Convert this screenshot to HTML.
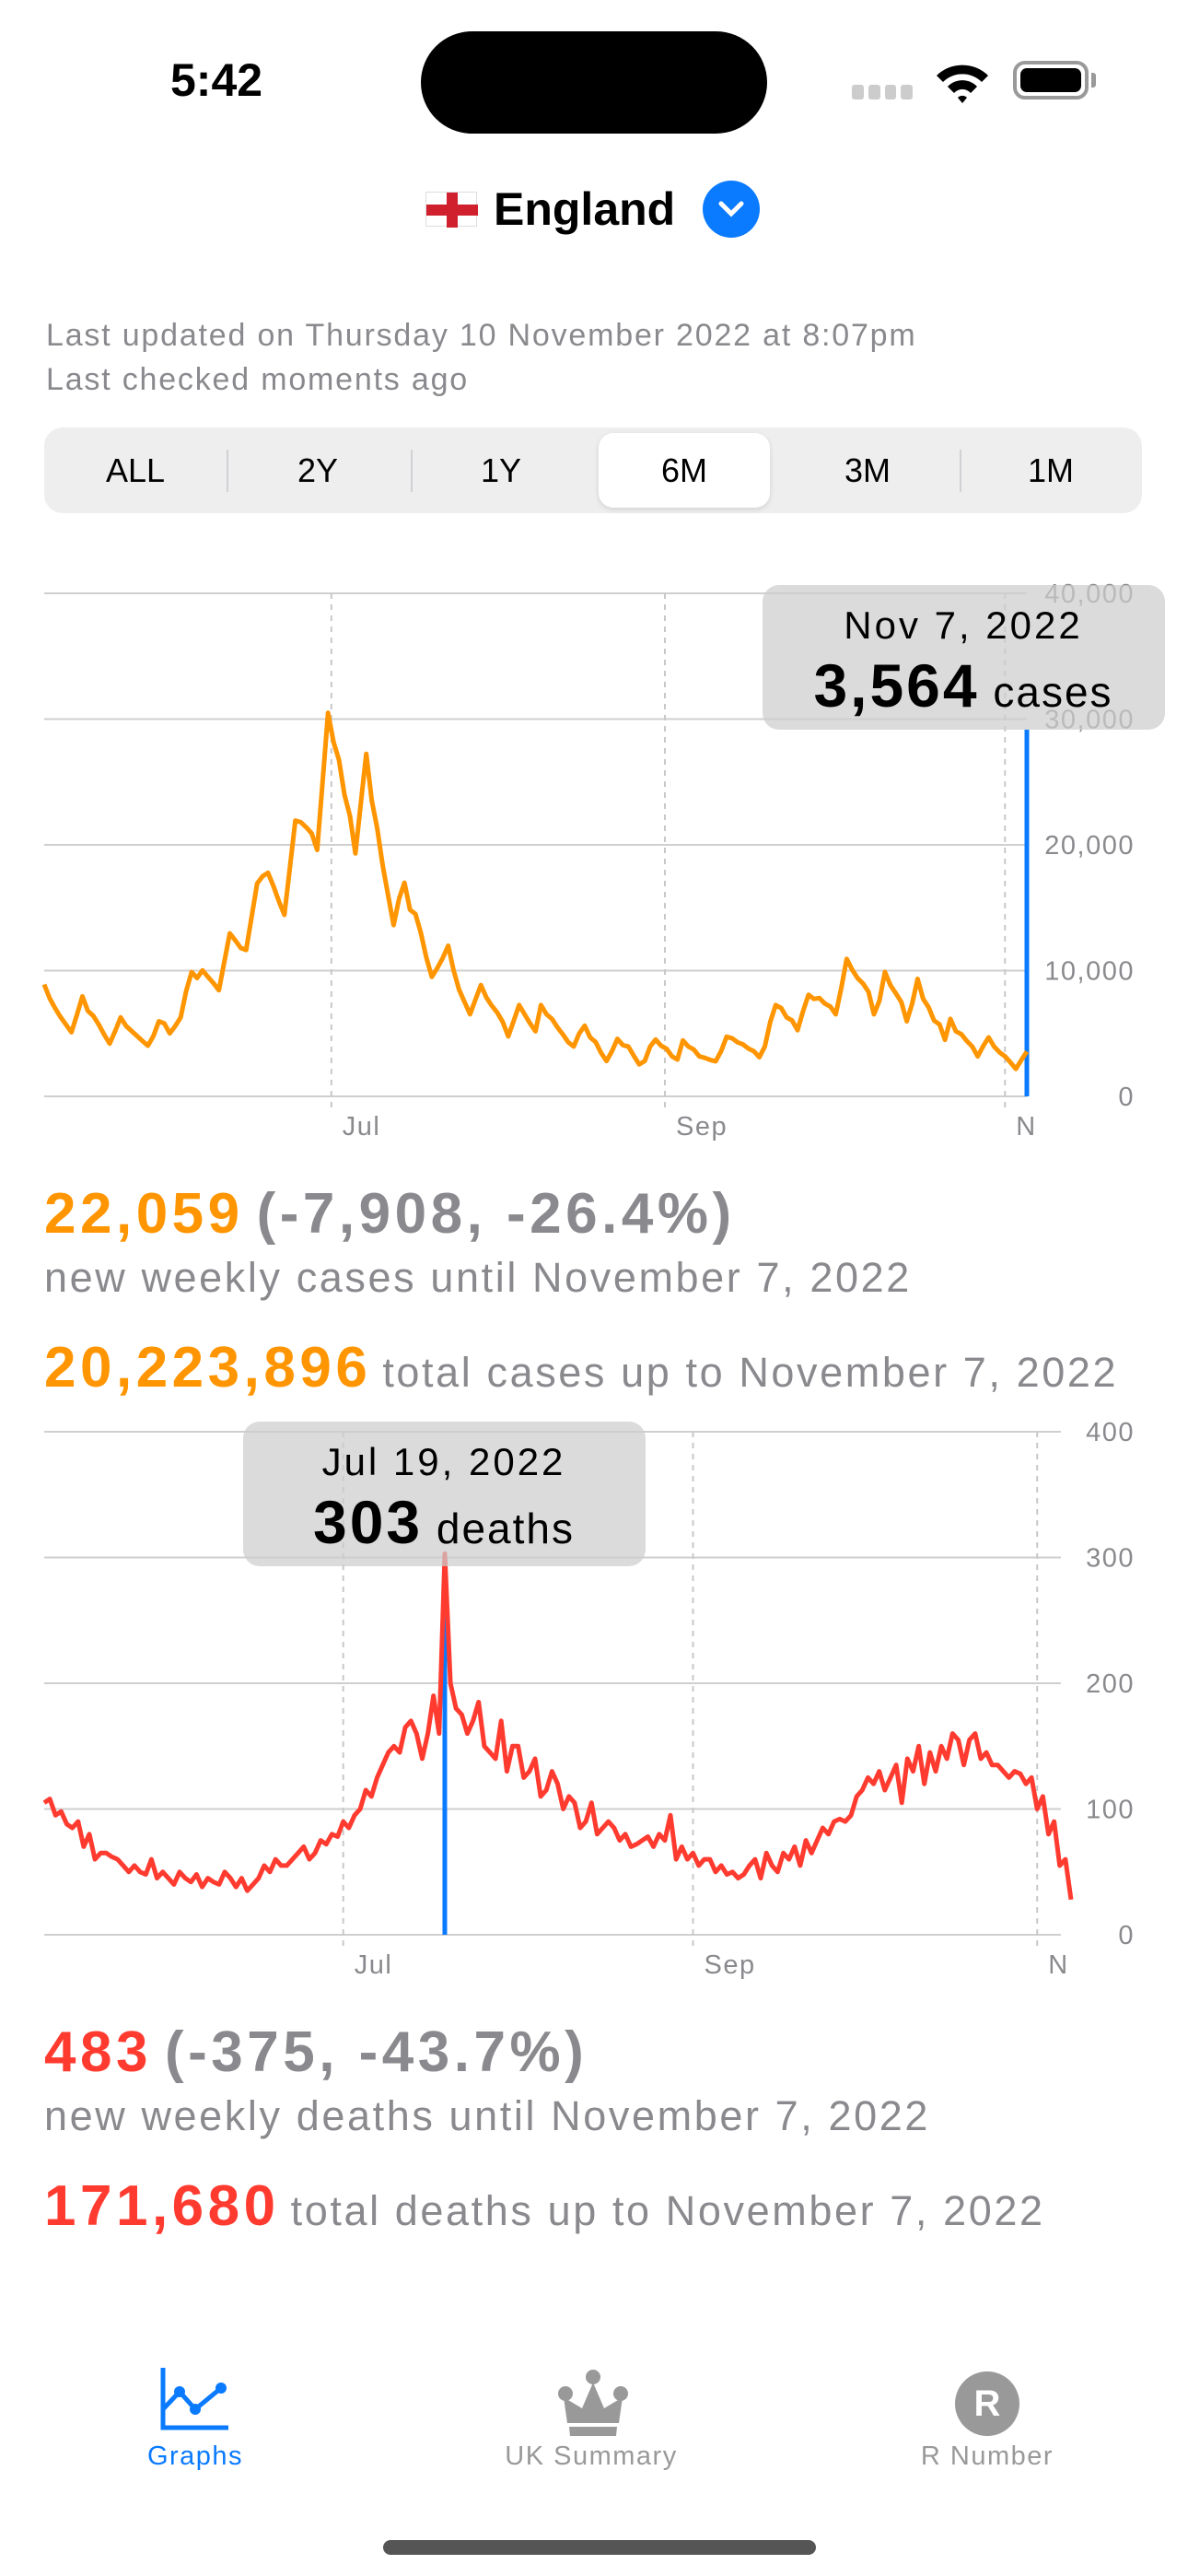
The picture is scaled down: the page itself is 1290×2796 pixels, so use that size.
<!DOCTYPE html>
<html><head><meta charset="utf-8">
<style>
*{margin:0;padding:0;box-sizing:border-box}
body{width:1290px;height:2796px;background:#fff;font-family:"Liberation Sans",sans-serif;position:relative;overflow:hidden}
.abs{position:absolute}
.seg{position:absolute;top:464px;left:48px;width:1192px;height:93px;background:#eeeeef;border-radius:20px}
.seg span{position:absolute;top:0;height:93px;line-height:93px;text-align:center;font-size:36px;color:#000;width:198px}
.sep{position:absolute;top:24px;width:2px;height:46px;background:#d1d1d6}
.big{font-size:62px;font-weight:bold;letter-spacing:4.5px}
.sub{font-size:45px;color:#8a8a8e;letter-spacing:2.6px}
.tab{position:absolute;top:2650px;font-size:29px;text-align:center;width:300px;letter-spacing:1.5px}
</style></head><body>
<div class="abs" style="left:185px;top:58px;font-size:50px;font-weight:bold">5:42</div>
<div class="abs" style="left:457px;top:34px;width:376px;height:111px;background:#000;border-radius:56px"></div>
<div class="abs" style="left:925px;top:92px;width:66px;height:16px;display:flex;gap:5px"><i style="flex:1;background:#ccc;border-radius:3px"></i><i style="flex:1;background:#ccc;border-radius:3px"></i><i style="flex:1;background:#ccc;border-radius:3px"></i><i style="flex:1;background:#ccc;border-radius:3px"></i></div>
<svg class="abs" style="left:1015px;top:66px" width="60" height="46" viewBox="0 0 60 46"><path d="M2 16 A40 40 0 0 1 58 16 L51 23 A30 30 0 0 0 9 23Z M14 28 A22 22 0 0 1 46 28 L39 35 A12 12 0 0 0 21 35Z M25 40 L30 46 L35 40 A7 7 0 0 0 25 40Z" fill="#000"/></svg>
<div class="abs" style="left:1100px;top:66px;width:82px;height:42px;border:4px solid #999;border-radius:13px;padding:4px"><div style="width:100%;height:100%;background:#000;border-radius:7px"></div></div>
<div class="abs" style="left:1185px;top:79px;width:5px;height:16px;background:#999;border-radius:0 3px 3px 0"></div>

<div class="abs" style="left:462px;top:196px;font-size:50px;font-weight:bold;display:flex;align-items:center;gap:18px">
<span style="width:56px;height:38px;background:#fff;border:1px solid #ddd;position:relative;display:inline-block"><i style="position:absolute;left:22px;top:0;width:12px;height:38px;background:#d0202e"></i><i style="position:absolute;left:0;top:13px;width:56px;height:12px;background:#d0202e"></i></span>
<span>England</span>
<span style="width:62px;height:62px;border-radius:50%;background:#0a7aff;display:inline-flex;align-items:center;justify-content:center;margin-left:12px"><svg width="30" height="20"><path d="M4 4 L15 15 L26 4" stroke="#fff" stroke-width="5" fill="none" stroke-linecap="round"/></svg></span></div>

<div class="abs" style="left:50px;top:340px;font-size:34px;color:#8a8a8e;line-height:48px;letter-spacing:1.8px">Last updated on Thursday 10 November 2022 at 8:07pm<br>Last checked moments ago</div>

<div class="seg">
<span style="left:0">ALL</span>
<div class="sep" style="left:198px"></div>
<span style="left:198px">2Y</span>
<div class="sep" style="left:398px"></div>
<span style="left:397px">1Y</span>
<span style="left:602px;top:6px;height:81px;line-height:81px;width:186px;background:#fff;border-radius:16px;box-shadow:0 2px 6px rgba(0,0,0,.12)">6M</span>
<span style="left:795px">3M</span>
<div class="sep" style="left:994px"></div>
<span style="left:994px">1M</span>
</div>

<svg id="c1" class="abs" style="left:0;top:600px" width="1290" height="650"></svg>
<div class="abs" style="left:48px;top:1282px;white-space:nowrap">
<div><span class="big" style="color:#ff9500">22,059</span><span class="big" style="color:#8a8a8e;margin-left:14px">(-7,908, -26.4%)</span></div>
<div class="sub" style="margin-top:8px">new weekly cases until November 7, 2022</div>
<div style="margin-top:36px"><span class="big" style="color:#ff9500">20,223,896</span><span class="sub" style="margin-left:12px">total cases up to November 7, 2022</span></div></div>

<svg id="c2" class="abs" style="left:0;top:1520px" width="1290" height="640"></svg>
<div class="abs" style="left:48px;top:2192px;white-space:nowrap">
<div><span class="big" style="color:#ff3b30">483</span><span class="big" style="color:#8a8a8e;margin-left:14px">(-375, -43.7%)</span></div>
<div class="sub" style="margin-top:8px">new weekly deaths until November 7, 2022</div>
<div style="margin-top:36px"><span class="big" style="color:#ff3b30">171,680</span><span class="sub" style="margin-left:12px">total deaths up to November 7, 2022</span></div></div>

<svg class="abs" style="left:172px;top:2570px" width="80" height="70"><path d="M5 0 V65 H76" stroke="#0a7aff" stroke-width="5" fill="none"/><path d="M5 45 L23 26 L40 45 L68 22" stroke="#0a7aff" stroke-width="5" fill="none"/><circle cx="23" cy="26" r="6" fill="#0a7aff"/><circle cx="40" cy="45" r="6" fill="#0a7aff"/><circle cx="68" cy="22" r="6" fill="#0a7aff"/></svg>
<div class="tab" style="left:62px;color:#0a7aff">Graphs</div>
<svg class="abs" style="left:606px;top:2572px" width="76" height="72"><circle cx="38" cy="8" r="8" fill="#999"/><circle cx="8" cy="26" r="8" fill="#999"/><circle cx="68" cy="26" r="8" fill="#999"/><path d="M6 30 L26 42 L38 14 L50 42 L70 30 L66 58 H10Z" fill="#999"/><path d="M12 62 H64 L63 72 H13Z" fill="#999"/></svg>
<div class="tab" style="left:492px;color:#999">UK Summary</div>
<div class="abs" style="left:1037px;top:2574px;width:70px;height:70px;border-radius:50%;background:#999;color:#fff;font-weight:bold;font-size:40px;line-height:70px;text-align:center">R</div>
<div class="tab" style="left:922px;color:#999">R Number</div>
<div class="abs" style="left:416px;top:2757px;width:470px;height:16px;border-radius:8px;background:#555"></div>

<script>
const caseValues=[8900,7800,7000,6300,5700,5100,6500,7950,6800,6400,5700,4900,4200,5200,6280,5600,5200,4800,4400,4030,
4800,5970,5800,5010,5600,6280,8360,9880,9410,10020,9500,9000,8440,10700,12960,12400,11800,11640,14300,16920,
17500,17780,16700,15500,14430,18200,21930,21800,21400,20900,19600,25000,30490,28170,26750,24000,22300,19320,23300,27240,
23520,21320,18390,16000,13620,15700,16990,14840,14500,13000,11050,9500,10200,11000,11980,10000,8480,7510,6530,7700,
8850,7870,7200,6650,5920,4770,6000,7260,6530,5800,5180,7260,6530,6160,5500,4940,4300,3960,5000,5620,
4690,4330,3470,2810,3590,4570,4080,3960,3230,2540,2810,3960,4520,4030,3790,3180,2930,4450,3960,3720,
3180,3060,2900,2790,3590,4740,4620,4300,4130,3800,3590,3110,3960,5920,7260,7020,6280,6040,5260,6770,
8070,7750,7820,7380,7140,6530,8610,10930,10070,9400,8970,8310,6530,7630,9900,8850,8200,7500,5970,7380,
9340,7750,7090,6040,5720,4500,6160,5180,4940,4400,3960,3180,4000,4690,3960,3500,3180,2700,2180,2900,3564];
const deathValues=[105,108,95,98,88,85,90,70,80,60,65,65,62,60,55,50,55,50,48,60,45,50,45,
40,50,45,42,48,38,45,42,40,50,45,38,45,35,40,45,55,50,60,55,55,60,65,70,60,65,75,72,80,78,
90,85,95,100,115,110,125,135,145,150,145,165,170,160,140,160,190,160,303,200,180,175,160,170,185,150,145,140,170,130,150,
150,125,130,140,110,115,130,120,100,110,105,85,90,105,80,85,90,85,75,80,70,72,75,78,70,80,75,95,60,70,60,
65,55,60,60,50,55,48,50,45,48,55,60,45,65,55,50,65,60,70,55,75,65,75,85,80,90,92,90,95,110,
115,125,120,130,115,125,135,105,140,130,150,120,145,130,150,140,160,155,135,155,160,140,145,135,135,130,125,130,128,120,125,
100,110,80,90,55,60,28];
const caseTicks=[0,10000,20000,30000,40000];
const caseTickLabels=["0","10,000","20,000","30,000","40,000"];
const deathTicks=[0,100,200,300,400];
const deathTickLabels=["0","100","200","300","400"];
const monthLabels=["Jul","Sep","N"];
const caseMonthIndex=[52.6,113.7,176];
const deathMonthIndex=[53,115,176];
const NS="http://www.w3.org/2000/svg";
function mk(svg,tag,attrs){const e=document.createElementNS(NS,tag);for(const k in attrs)e.setAttribute(k,attrs[k]);svg.appendChild(e);return e;}
function draw(svg,vals,ticks,tickLbls,ymax,monthIdx,x0,x1,gx1,yTop,yBot,color,hiIdx,hiDate,hiUnit,tipX,tipY,kind,ruleFromTip){
  const n=vals.length;
  const xs=i=>x0+(x1-x0)*i/(n-1);
  const ys=v=>yBot-(yBot-yTop)*v/ymax;
  ticks.forEach((t,i)=>{
    const l=mk(svg,'line',{x1:48,x2:gx1,y1:ys(t),y2:ys(t),stroke:'#cfcfcf','stroke-width':2});
    
    
    const tx=mk(svg,'text',{x:1232,y:ys(t)+10,'text-anchor':'end','font-size':29,'letter-spacing':1.5,fill:'#8a8a8e','font-family':'Liberation Sans'});
    tx.textContent=tickLbls[i];
    
    
  });
  monthIdx.forEach((d,i)=>{
    const x=xs(d);
    const l=mk(svg,'line',{x1:x,x2:x,y1:yTop,y2:yBot+14,stroke:'#c8c8c8','stroke-width':2,'stroke-dasharray':'6,6'});
    
    
    const tx=mk(svg,'text',{x:x+12,y:yBot+42,'font-size':29,'letter-spacing':1.5,fill:'#8a8a8e','font-family':'Liberation Sans'});
    tx.textContent=monthLabels[i];
    
    
  });
  const hx=xs(hiIdx);
  const rule=mk(svg,'line',{x1:hx,x2:hx,y1:ruleFromTip?tipY+157:ys(vals[hiIdx]),y2:yBot,stroke:'#0a7aff','stroke-width':5});
  
  
  const pts=vals.map((v,i)=>xs(i).toFixed(1)+','+ys(v).toFixed(1)).join(' ');
  const pl=mk(svg,'polyline',{points:pts,fill:'none',stroke:color,'stroke-width':5,'stroke-linejoin':'round'});
  
  
  const g=mk(svg,'g',{});
  
  
  mk(g,'rect',{x:tipX,y:tipY,width:437,height:157,rx:18,fill:'rgba(205,205,205,0.72)'});
  const t1=mk(g,'text',{x:tipX+218,y:tipY+58,'text-anchor':'middle','font-size':42,'letter-spacing':3,'font-family':'Liberation Sans'});
  t1.textContent=hiDate;
  const t2=mk(g,'text',{x:tipX+218,y:tipY+132,'text-anchor':'middle','font-family':'Liberation Sans'});
  const a=document.createElementNS(NS,'tspan');a.setAttribute('font-size',66);a.setAttribute('font-weight','bold');a.setAttribute('letter-spacing',3);a.textContent=vals[hiIdx].toLocaleString('en-US');t2.appendChild(a);
  const b=document.createElementNS(NS,'tspan');b.setAttribute('font-size',46);b.setAttribute('letter-spacing',2);b.textContent=' '+hiUnit;t2.appendChild(b);
}
draw(document.getElementById('c1'),caseValues,caseTicks,caseTickLabels,40000,caseMonthIndex,48,1115,1115,44,590,'#ff9500',caseValues.length-1,'Nov 7, 2022','cases',828,35,'cases',true);
draw(document.getElementById('c2'),deathValues,deathTicks,deathTickLabels,400,deathMonthIndex,48,1163,1152,34,580,'#ff3b30',71,'Jul 19, 2022','deaths',264,23,'deaths',false);
</script>
</body></html>
